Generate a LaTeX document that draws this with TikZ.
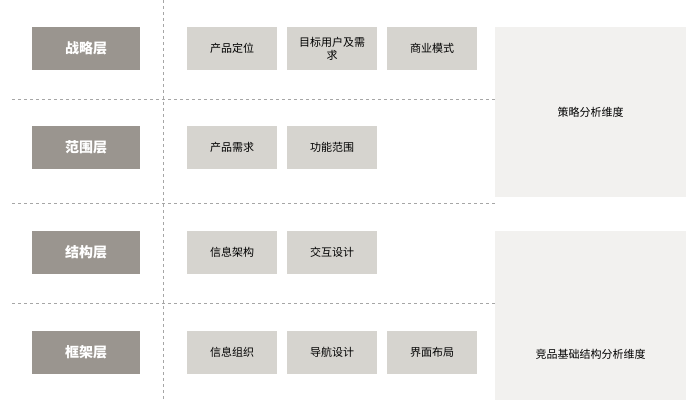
\documentclass[tikz,border=0pt]{standalone}
\usepackage{fontspec}
\newfontfamily\cjk{Noto Sans CJK SC}
\usepackage{tikz}

\definecolor{layergray}{HTML}{9A958F}
\definecolor{itemgray}{HTML}{D6D4CF}
\definecolor{panelgray}{HTML}{F2F1EF}

\begin{document}
\begin{tikzpicture}[x=1pt,y=-1pt,
    layer/.style={fill=layergray,minimum width=108pt,minimum height=43pt,text=white,font=\cjk\bfseries\fontsize{14}{16}\selectfont},
    item/.style={fill=itemgray,minimum width=90pt,minimum height=43pt,align=center,font=\cjk\fontsize{11}{13}\selectfont},
    panel/.style={fill=panelgray,align=center,font=\cjk\fontsize{11}{13}\selectfont},
    sep/.style={draw=gray!70,dashed}]
    \useasboundingbox (0,0) rectangle (698,400);
	\node[panel,minimum width=191pt,minimum height=170pt] (p1) at (590.5, 112)   {策略分析维度};
	\node[panel,minimum width=191pt,minimum height=169pt] (p2) at (590.5, 315.5) {};
	\node[font=\cjk\fontsize{11}{13}\selectfont] (p2t) at (590.5, 354) {竞品基础结构分析维度};
	\draw[sep] (163,0) -- (163,400);
	\draw[sep] (12,99) -- (495,99);
	\draw[sep] (12,203) -- (495,203);
	\draw[sep] (12,303) -- (495,303);
	\node[layer] (l1) at (86, 48.5)  {战略层};
	\node[layer] (l2) at (86, 147.5) {范围层};
	\node[layer] (l3) at (86, 252.5) {结构层};
	\node[layer] (l4) at (86, 352.5) {框架层};
	\node[item] (a1) at (232, 48.5)  {产品定位};
	\node[item] (a2) at (332, 48.5)  {目标用户及需\\求};
	\node[item] (a3) at (432, 48.5)  {商业模式};
	\node[item] (b1) at (232, 147.5) {产品需求};
	\node[item] (b2) at (332, 147.5) {功能范围};
	\node[item] (c1) at (232, 252.5) {信息架构};
	\node[item] (c2) at (332, 252.5) {交互设计};
	\node[item] (d1) at (232, 352.5) {信息组织};
	\node[item] (d2) at (332, 352.5) {导航设计};
	\node[item] (d3) at (432, 352.5) {界面布局};
\end{tikzpicture}
\end{document}
